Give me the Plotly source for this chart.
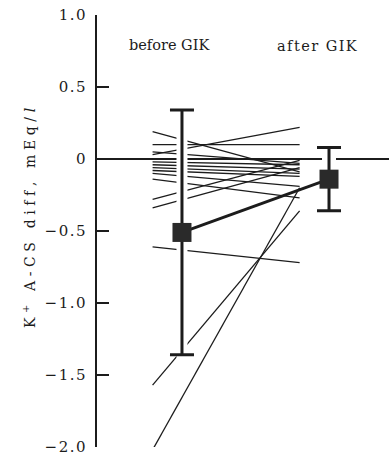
import plotly.graph_objects as go

# ---- data ----
before_vals = [0.19, 0.10, 0.03, 0.05, 0.0, 0.0, -0.02, -0.04, -0.06, -0.08,
               -0.10, -0.14, -0.28, -0.34, -0.61, -1.57, -2.02]
after_vals = [-0.09, 0.10, 0.22, -0.03, 0.0, 0.0, -0.04, -0.07, -0.10, -0.12,
              -0.19, -0.27, -0.01, -0.06, -0.72, -0.36, -0.20]
mean_labels = ["before GIK", "after GIK"]
mean_vals = [-0.51, -0.14]
mean_err = [0.85, 0.22]
tick_vals = [1.0, 0.5, 0.0, -0.5, -1.0, -1.5, -2.0]
tick_text = ["1.0", "0.5", "0", "\u22120.5", "\u22121.0", "\u22121.5", "\u22122.0"]
y_title_parts = ["K", "<sup>+</sup>", " ", "A", "-", "C", "S", " ", "d", "i", "f", "f", ",",
                 " ", "m", "E", "q", "/", "<i>l</i>"]

SERIF = "DejaVu Serif"
INK = "#1c1c1c"


def spaced(s, sp="\u2005"):
    return sp.join(list(s))


fig = go.Figure()

# individual patients
for b, a in zip(before_vals, after_vals):
    fig.add_trace(go.Scatter(x=[-0.2, 0.8], y=[b, a], mode="lines",
                             line=dict(color=INK, width=1.3),
                             hoverinfo="skip", showlegend=False))

# white halos round the error bars
for i, (m, e) in enumerate(zip(mean_vals, mean_err)):
    fig.add_trace(go.Scatter(x=[i, i], y=[m + e, m - e - 0.02], mode="lines",
                             line=dict(color="white", width=11 if i == 0 else 14),
                             hoverinfo="skip", showlegend=False))

# means with error bars
fig.add_trace(go.Scatter(
    x=[0, 1], y=mean_vals, mode="lines+markers",
    line=dict(color=INK, width=3),
    marker=dict(symbol="square", size=19, color="#2a2a2a", line=dict(width=0)),
    error_y=dict(type="data", array=mean_err, visible=True, color=INK,
                 thickness=3, width=12),
    text=mean_labels, hoverinfo="skip", showlegend=False))

fig.add_annotation(x=-0.082, y=0.79, xref="x", yref="y", text="before GIK",
                   xanchor="center", yanchor="middle",
                   showarrow=False, font=dict(family=SERIF, size=14.5, color=INK))
fig.add_annotation(x=0.925, y=0.785, xref="x", yref="y", text=spaced("after GIK", "\u200a"),
                   xanchor="center", yanchor="middle",
                   showarrow=False, font=dict(family=SERIF, size=14.5, color=INK))
fig.add_annotation(x=-0.233, y=0.53, xref="paper", yref="paper",
                   text="\u2004".join(y_title_parts), textangle=-90,
                   xanchor="center", yanchor="middle",
                   showarrow=False, font=dict(family=SERIF, size=14, color=INK))

fig.update_xaxes(range=[-0.578, 1.408], visible=False)
fig.update_yaxes(range=[-2.0, 1.0], showline=True, linecolor=INK, linewidth=2.5,
                 ticks="inside", ticklen=12, tickwidth=2.5, tickcolor=INK,
                 tickvals=tick_vals, ticktext=[spaced(t, "\u200a") for t in tick_text],
                 tickfont=dict(family=SERIF, size=15, color=INK),
                 ticklabelstandoff=6, automargin=False,
                 showgrid=False, zeroline=True, zerolinecolor=INK, zerolinewidth=2)

fig.update_layout(width=389, height=461, autosize=False,
                  margin=dict(l=97, r=0, t=15, b=14, autoexpand=False),
                  font=dict(family=SERIF), hovermode=False,
                  plot_bgcolor="white", paper_bgcolor="white")

fig.write_html("out.html", config={"displayModeBar": False, "staticPlot": True},
               post_script="document.body.style.margin='0';document.body.style.padding='0';")
